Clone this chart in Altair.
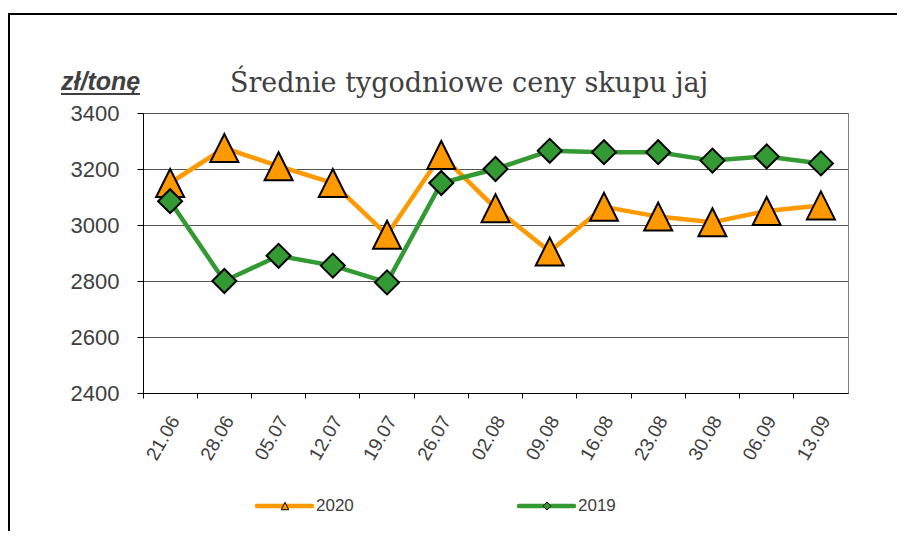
import altair as alt
import pandas as pd

weeks = ["21.06", "28.06", "05.07", "12.07", "19.07", "26.07", "02.08",
         "09.08", "16.08", "23.08", "30.08", "06.09", "13.09"]
prices_2020 = [3150, 3275, 3210, 3150, 2965, 3250, 3060, 2905, 3065, 3030, 3010, 3050, 3070]
prices_2019 = [3085, 2800, 2890, 2855, 2795, 3150, 3200, 3265, 3260, 3260, 3230, 3245, 3220]
series_names = ["2020", "2019"]
series_values = [prices_2020, prices_2019]
series_colors = ["#FF9900", "#339933"]
series_shapes = ["M0,-1L1,1L-1,1Z", "diamond"]
series_sizes = [784, 576]
legend_sizes = [56, 64]
y_ticks = [2400, 2600, 2800, 3000, 3200, 3400]
title_text = "Średnie tygodniowe ceny skupu jaj"
unit_text = "zł/tonę"

df = pd.DataFrame({
    "week": weeks * len(series_names),
    "year": [n for n, v in zip(series_names, series_values) for _ in v],
    "price": [p for v in series_values for p in v],
})

x_enc = alt.X(
    "week:N", sort=weeks, bandPosition=0.5,
    scale=alt.Scale(type="band", paddingInner=0, paddingOuter=0),
    axis=alt.Axis(
        title=None, bandPosition=0, labelOffset=5, labelAngle=300,
        labelAlign="right", labelBaseline="middle", labelPadding=19,
        labelFont="Liberation Sans", labelFontSize=19, labelColor="#404040",
        tickSize=5, tickColor="#000000", domainColor="#000000", grid=False,
    ),
)
y_enc = alt.Y(
    "price:Q",
    scale=alt.Scale(domain=[2400, 3400], nice=False, zero=False),
    axis=alt.Axis(
        title=None, values=y_ticks, format="d", grid=True, gridColor="#555555",
        tickSize=6, tickColor="#000000", domainColor="#000000",
        labelFont="Liberation Sans", labelFontSize=22, labelColor="#404040",
        labelPadding=18,
    ),
)

base = alt.Chart(df)
layers = []
for name, color in zip(series_names, series_colors):
    sub = base.transform_filter(alt.datum.year == name)
    layers.append(sub.mark_line(color=color, strokeWidth=4.5).encode(x=x_enc, y=y_enc))
for name, color, shape, size in zip(series_names, series_colors, series_shapes, series_sizes):
    sub = base.transform_filter(alt.datum.year == name)
    layers.append(sub.mark_point(shape=shape, size=size, filled=True, fill=color,
                                 stroke="#000000", strokeWidth=2, opacity=1).encode(x=x_enc, y=y_enc))

one = alt.Data(values=[{"k": 1}])

title_layer = alt.Chart(one).mark_text(
    text=title_text, font="DejaVu Serif", fontSize=27, color="#404040",
    align="center", baseline="alphabetic",
).encode(x=alt.value(326), y=alt.value(-21))

unit_layer = alt.Chart(one).mark_text(
    text=unit_text, font="Liberation Sans", fontSize=25, fontStyle="italic",
    fontWeight="bold", color="#404040", align="left", baseline="alphabetic",
).encode(x=alt.value(-82), y=alt.value(-23))

underline = alt.Chart(one).mark_rule(color="#404040", strokeWidth=2).encode(
    x=alt.value(-82), x2=alt.value(-3), y=alt.value(-19))

border = alt.Chart(one).mark_rect(fillOpacity=0, stroke="#000000", strokeWidth=2).encode(
    x=alt.value(-134), x2=alt.value(800), y=alt.value(-99), y2=alt.value(450))

legend_layers = []
for i, (name, color, shape, lsize) in enumerate(zip(series_names, series_colors, series_shapes, legend_sizes)):
    x0 = 114 + i * 262
    legend_layers.append(alt.Chart(one).mark_rule(color=color, strokeWidth=4.5, strokeCap="round").encode(
        x=alt.value(x0), x2=alt.value(x0 + 55), y=alt.value(393)))
    legend_layers.append(alt.Chart(one).mark_point(shape=shape, size=lsize, filled=True, fill=color,
                                                   stroke="#000000", strokeWidth=1, opacity=1).encode(
        x=alt.value(x0 + 28), y=alt.value(393)))
    legend_layers.append(alt.Chart(one).mark_text(
        text=name, font="Liberation Sans", fontSize=17, color="#404040",
        align="left", baseline="middle").encode(x=alt.value(x0 + 59), y=alt.value(393)))

chart = alt.layer(*layers, title_layer, unit_layer, underline, border, *legend_layers).properties(
    width=705, height=280,
    padding={"left": 135, "top": 105, "right": 49, "bottom": 138},
    autosize="none",
).configure_view(stroke="#808080", strokeWidth=1)

chart.save("out.html", embed_options={"renderer": "svg", "actions": False})
